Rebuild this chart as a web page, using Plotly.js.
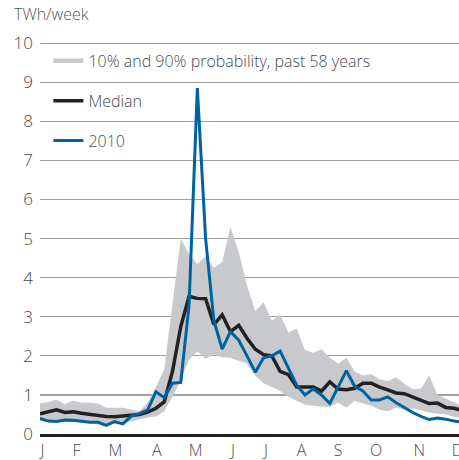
<!DOCTYPE html>
<html>
<head>
<meta charset="utf-8">
<script src="https://cdn.plot.ly/plotly-3.0.1.min.js"></script>
<style>html,body{margin:0;padding:0;background:#fff;}#chart{width:459px;height:460px;}</style>
</head>
<body>
<div id="chart"></div>
<script>
// Week numbers 1..52
const weeks = [1,2,3,4,5,6,7,8,9,10,11,12,13,14,15,16,17,18,19,20,21,22,23,24,25,26,
  27,28,29,30,31,32,33,34,35,36,37,38,39,40,41,42,43,44,45,46,47,48,49,50,51,52];

// 10% probability (lower edge of band), TWh/week
const p10 = [0.33,0.3,0.3,0.32,0.3,0.3,0.28,0.27,0.23,0.25,0.28,0.32,0.38,0.42,0.45,0.58,
  0.95,1.38,1.9,2.12,1.92,2.04,1.96,1.95,1.87,1.8,1.5,1.3,1.2,1.1,0.95,0.85,0.75,0.72,0.7,0.7,
  0.8,0.68,0.85,0.78,0.72,0.62,0.58,0.68,0.62,0.66,0.6,0.55,0.52,0.5,0.44,0.4];

// 90% probability (upper edge of band)
const p90 = [0.78,0.82,0.88,0.76,0.86,0.8,0.8,0.78,0.67,0.67,0.67,0.63,0.58,0.8,1.2,1.65,
  3.3,5.0,4.6,4.35,4.55,4.25,4.4,5.3,4.65,3.8,3.15,3.37,2.9,3.05,2.6,2.7,2.15,2.08,2.17,1.95,
  1.8,1.95,1.6,1.5,1.53,1.4,1.35,1.45,1.28,1.15,1.15,1.5,1.0,0.9,0.8,0.72];

// Median
const median = [0.52,0.58,0.62,0.55,0.57,0.53,0.50,0.47,0.45,0.44,0.46,0.49,0.50,0.56,0.66,0.82,
  1.6,2.75,3.52,3.47,3.46,2.8,3.05,2.62,2.78,2.45,2.17,2.03,2.0,1.6,1.52,1.2,1.2,1.2,1.1,1.33,
  1.15,1.13,1.17,1.3,1.3,1.2,1.13,1.05,1.03,0.95,0.85,0.78,0.79,0.68,0.66,0.6];

// 2010
const y2010 = [0.40,0.33,0.32,0.36,0.35,0.33,0.30,0.30,0.22,0.32,0.26,0.45,0.52,0.62,1.08,0.93,
  1.3,1.32,3.3,8.85,5.0,2.9,2.17,2.62,2.4,2.0,1.58,1.95,2.0,2.12,1.7,1.25,1.0,1.15,1.0,0.78,
  1.2,1.62,1.22,1.1,0.87,0.87,0.95,0.8,0.68,0.55,0.45,0.37,0.41,0.38,0.33,0.3];

// Month tick labels and their week positions
const monthLabels = ['J','F','M','A','M','J','J','A','S','O','N','D'];
const monthWeeks = [1.3,5.4,10.1,15.1,19.8,24.3,28.3,32.6,37.0,41.6,46.8,51.4];

const yTicks = [0,1,2,3,4,5,6,7,8,9,10];

const seriesNames = ['10% and 90% probability, past 58 years', 'Median', '2010'];

const FONT = 'Open Sans, Lato, sans-serif';
const bandColor = 'rgb(200,201,204)';
const blue = 'rgb(0,98,160)';
const black = 'rgb(34,34,34)';

const traces = [
  {x: weeks, y: p10, mode: 'lines', line: {width: 0, color: bandColor},
   showlegend: false, hoverinfo: 'skip'},
  {x: weeks, y: p90, mode: 'lines', line: {width: 0, color: bandColor},
   fill: 'tonexty', fillcolor: bandColor, showlegend: false, hoverinfo: 'skip'},
  {x: [null], y: [null], mode: 'lines', name: seriesNames[0],
   line: {width: 4.5, color: bandColor}, legendgroup: 'a'},
  {x: weeks, y: median, mode: 'lines', name: seriesNames[1],
   line: {width: 3.5, color: black}, legendgroup: 'b'},
  {x: weeks, y: y2010, mode: 'lines', name: seriesNames[2],
   line: {width: 3, color: blue}, legendgroup: 'c'}
];

const layout = {
  width: 459, height: 460,
  margin: {l: 40, r: 0, t: 42, b: 26, pad: 0},
  paper_bgcolor: '#fff', plot_bgcolor: '#fff',
  font: {family: FONT, color: '#4a4a4a', size: 16, weight: 300},
  showlegend: true,
  legend: {
    x: 0.02, y: 0.995, xanchor: 'left', yanchor: 'top',
    bgcolor: 'rgba(0,0,0,0)', borderwidth: 0,
    font: {family: FONT, size: 16, color: '#4a4a4a', weight: 300},
    traceorder: 'grouped', tracegroupgap: 16, itemwidth: 30
  },
  xaxis: {
    range: [1, 51.6],
    tickmode: 'array', tickvals: monthWeeks, ticktext: monthLabels,
    ticklabeloverflow: 'allow',
    showgrid: false, zeroline: false,
    showline: true, linecolor: '#222', linewidth: 2.5,
    ticks: '', tickfont: {family: FONT, size: 16, color: '#4a4a4a'},
    ticklabelstandoff: 0,
    fixedrange: true
  },
  yaxis: {
    range: [0, 10.03],
    tickmode: 'array', tickvals: yTicks,
    ticklabeloverflow: 'allow',
    showgrid: true, gridcolor: '#a0a0a0', gridwidth: 1.3,
    zeroline: false, showline: false,
    ticks: '', tickfont: {family: FONT, size: 17, color: '#4a4a4a'},
    ticklabelstandoff: 6,
    fixedrange: true
  },
  annotations: [{
    text: 'TWh/week', xref: 'paper', yref: 'paper',
    x: -0.068, y: 1.072, xanchor: 'left', yanchor: 'middle',
    showarrow: false, font: {family: FONT, size: 16, color: '#555', weight: 300}
  }]
};

Plotly.newPlot('chart', traces, layout, {staticPlot: true, displayModeBar: false});
</script>
</body>
</html>
